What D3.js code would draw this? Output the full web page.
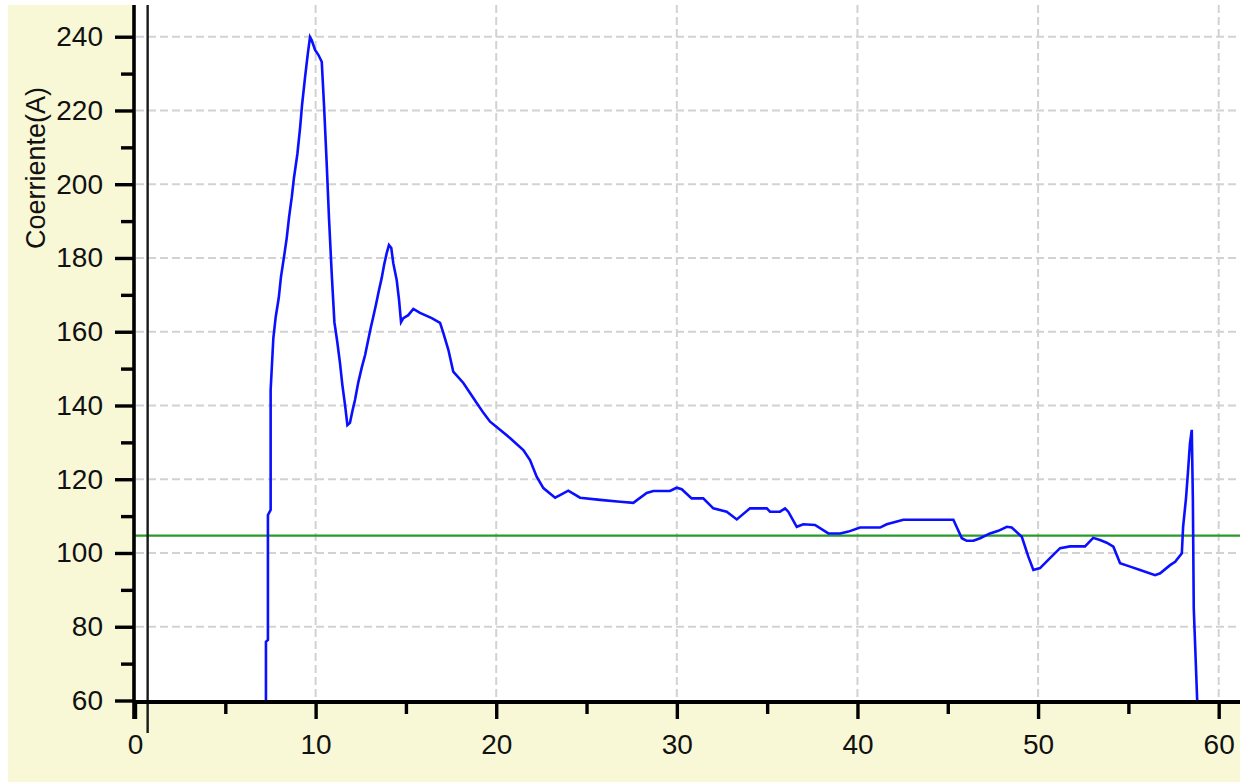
<!DOCTYPE html>
<html>
<head>
<meta charset="utf-8">
<script src="https://cdn.jsdelivr.net/npm/d3@7"></script>
<style>
  html, body { margin: 0; padding: 0; background: #ffffff; }
  svg { display: block; }
  text { font-family: "Liberation Sans", Arial, sans-serif; }
</style>
</head>
<body>
<svg id="chart" width="1240" height="782"></svg>
<script>
// Tiempo (s) de cada muestra
const tiempo = [
  7.25, 7.25, 7.36, 7.36, 7.51, 7.51, 7.66, 7.79, 7.96, 8.08,
  8.25, 8.40, 8.53, 8.68, 8.80, 8.99, 9.14, 9.25, 9.41, 9.56,
  9.69, 9.78, 9.97, 10.15, 10.34, 10.47, 10.61, 10.74, 10.89, 11.04,
  11.20, 11.35, 11.48, 11.63, 11.76, 11.90, 12.05, 12.18, 12.36, 12.55,
  12.74, 12.88, 13.05, 13.19, 13.34, 13.51, 13.66, 13.79, 13.94, 14.06,
  14.19, 14.30, 14.49, 14.62, 14.73, 14.86, 15.13, 15.41, 15.78, 16.43,
  16.89, 17.07, 17.35, 17.62, 18.18, 18.55, 18.92, 19.29, 19.66, 20.21,
  20.76, 21.50, 21.87, 22.24, 22.61, 23.26, 23.53, 23.99, 24.64, 25.75,
  26.86, 27.59, 28.33, 28.70, 29.62, 29.99, 30.27, 30.82, 31.46, 32.02,
  32.76, 33.32, 34.05, 34.98, 35.16, 35.71, 35.99, 36.17, 36.64, 37.00,
  37.65, 38.39, 39.04, 39.50, 40.14, 41.25, 41.62, 42.54, 45.31, 45.78,
  46.05, 46.42, 46.79, 47.34, 47.80, 48.27, 48.54, 49.10, 49.46, 49.74,
  50.11, 50.66, 51.22, 51.77, 52.60, 53.05, 53.43, 53.80, 54.17, 54.54,
  55.10, 55.65, 56.48, 56.76, 57.31, 57.59, 57.96, 58.03, 58.19, 58.30,
  58.41, 58.51, 58.57, 58.62, 58.81
];

// Corriente (A) medida en cada muestra
const corriente = [
  60.0, 75.9, 76.4, 110.3, 111.7, 144.2, 158.3, 164.0, 169.2, 174.8,
  180.3, 185.4, 191.1, 196.5, 201.7, 208.2, 215.3, 221.5, 228.8, 235.1,
  239.9, 239.1, 236.4, 235.1, 233.2, 221.0, 206.0, 190.9, 175.9, 162.6,
  157.2, 151.5, 145.6, 140.1, 134.7, 135.3, 138.8, 141.5, 146.2, 150.2,
  153.7, 157.0, 161.0, 164.0, 167.3, 171.3, 174.6, 178.1, 181.4, 183.5,
  182.7, 178.6, 174.0, 168.6, 162.6, 163.7, 164.5, 166.2, 165.1, 163.7,
  162.4, 159.7, 155.1, 149.2, 146.1, 143.4, 140.7, 138.0, 135.6, 133.4,
  131.2, 127.9, 125.2, 120.7, 117.6, 115.0, 115.7, 116.9, 115.0, 114.4,
  113.9, 113.6, 116.3, 116.8, 116.8, 117.7, 117.3, 114.8, 114.8, 112.1,
  111.2, 109.1, 112.1, 112.1, 111.2, 111.2, 112.1, 111.2, 107.1, 107.8,
  107.6, 105.3, 105.3, 105.8, 106.9, 106.9, 107.8, 109.0, 109.0, 104.0,
  103.3, 103.3, 104.0, 105.3, 106.0, 107.1, 106.9, 104.4, 99.0, 95.4,
  95.9, 98.6, 101.3, 101.8, 101.8, 104.1, 103.5, 102.8, 101.7, 97.2,
  96.3, 95.4, 94.0, 94.5, 96.7, 97.6, 99.9, 107.1, 114.8, 122.0,
  129.7, 133.4, 114.8, 85.0, 60.0
];

// Valor de referencia (línea verde) y posición del cursor vertical
const referencia = [104.7];
const cursorTiempo = [0.7];

// Marcas de los ejes
const xTicksMayores = [0, 10, 20, 30, 40, 50, 60];
const xTicksMenores = [5, 15, 25, 35, 45, 55];
const yTicksMayores = [60, 80, 100, 120, 140, 160, 180, 200, 220, 240];
const yTicksMenores = [70, 90, 110, 130, 150, 170, 190, 210, 230];
const tituloY = "Coerriente(A)";

const svg = d3.select("#chart");
const W = 1240, H = 782;

const plot = { left: 134, top: 5, right: W, bottom: 702 };

const x = d3.scaleLinear().domain([0, 61.18]).range([135, 1240]);
const y = d3.scaleLinear().domain([60, 248.6]).range([700.5, 5]);

// Fondo amarillo del control y área de trazado blanca
svg.append("rect").attr("x", 8).attr("y", 5).attr("width", W - 8).attr("height", H - 5)
  .attr("fill", "#f8f8d6");
svg.append("rect").attr("x", plot.left).attr("y", plot.top)
  .attr("width", plot.right - plot.left).attr("height", plot.bottom - plot.top)
  .attr("fill", "#ffffff");

// Rejilla discontinua
const grid = svg.append("g").attr("stroke", "#d2d2d2").attr("stroke-width", 2)
  .attr("stroke-dasharray", "8,4").attr("fill", "none");
grid.selectAll("line.h").data(yTicksMayores.filter(v => v > 60)).join("line")
  .attr("class", "h")
  .attr("x1", plot.left + 2).attr("x2", plot.right)
  .attr("y1", d => y(d)).attr("y2", d => y(d));
grid.selectAll("line.v").data(xTicksMayores.filter(v => v > 0)).join("line")
  .attr("class", "v")
  .attr("x1", d => x(d)).attr("x2", d => x(d))
  .attr("y1", plot.top).attr("y2", plot.bottom);

// Línea de referencia
svg.append("g").selectAll("line").data(referencia).join("line")
  .attr("x1", plot.left).attr("x2", plot.right)
  .attr("y1", d => y(d)).attr("y2", d => y(d))
  .attr("stroke", "#2a9a2a").attr("stroke-width", 2.2);

// Serie de corriente
const puntos = tiempo.map((t, i) => [t, corriente[i]]);
svg.append("path").datum(puntos)
  .attr("fill", "none").attr("stroke", "#0a10ff").attr("stroke-width", 2.6)
  .attr("stroke-linejoin", "miter")
  .attr("d", d3.line().x(d => x(d[0])).y(d => y(d[1])));

// Cursor vertical
svg.append("g").selectAll("line").data(cursorTiempo).join("line")
  .attr("x1", d => x(d)).attr("x2", d => x(d))
  .attr("y1", plot.top).attr("y2", 733)
  .attr("stroke", "#1a1a1a").attr("stroke-width", 2.4);

// Eje Y
const ejeY = svg.append("g").attr("transform", `translate(${plot.left},0)`)
  .call(d3.axisLeft(y).tickValues(yTicksMayores).tickSize(19).tickPadding(12));
ejeY.select(".domain").remove();
ejeY.selectAll(".tick line").attr("stroke", "#000").attr("stroke-width", 3.4);
ejeY.selectAll(".tick text").attr("font-size", 28).attr("fill", "#111")
  .attr("font-family", "Liberation Sans, Arial, sans-serif");

const ejeYMenor = svg.append("g").attr("transform", `translate(${plot.left},0)`)
  .call(d3.axisLeft(y).tickValues(yTicksMenores).tickSize(13).tickFormat(""));
ejeYMenor.select(".domain").remove();
ejeYMenor.selectAll(".tick line").attr("stroke", "#000").attr("stroke-width", 3.4);

// Eje X
const ejeX = svg.append("g").attr("transform", `translate(0,${plot.bottom})`)
  .call(d3.axisBottom(x).tickValues(xTicksMayores).tickSize(17).tickPadding(15));
ejeX.select(".domain").remove();
ejeX.selectAll(".tick line").attr("stroke", "#000").attr("stroke-width", 3.4);
ejeX.selectAll(".tick text").attr("font-size", 28).attr("fill", "#111")
  .attr("font-family", "Liberation Sans, Arial, sans-serif");

const ejeXMenor = svg.append("g").attr("transform", `translate(0,${plot.bottom})`)
  .call(d3.axisBottom(x).tickValues(xTicksMenores).tickSize(12).tickFormat(""));
ejeXMenor.select(".domain").remove();
ejeXMenor.selectAll(".tick line").attr("stroke", "#000").attr("stroke-width", 3.4);

// Líneas de los ejes
svg.append("line").attr("x1", plot.left).attr("x2", plot.left)
  .attr("y1", plot.top).attr("y2", 719)
  .attr("stroke", "#000").attr("stroke-width", 3.6);
svg.append("line").attr("x1", plot.left).attr("x2", plot.right)
  .attr("y1", plot.bottom).attr("y2", plot.bottom)
  .attr("stroke", "#000").attr("stroke-width", 4);

// Título del eje Y
svg.append("text")
  .attr("transform", "translate(45,168) rotate(-90)")
  .attr("text-anchor", "middle")
  .attr("font-size", 27).attr("fill", "#111")
  .text(tituloY);
</script>
</body>
</html>
